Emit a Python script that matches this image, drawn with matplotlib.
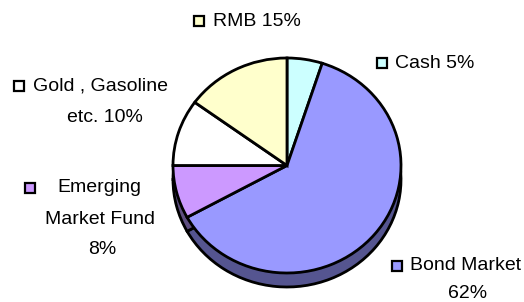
import matplotlib.pyplot as plt

plt.rcParams["font.family"] = ["Liberation Sans", "DejaVu Sans"]

labels = ["Cash", "Bond Market", "Emerging Market Fund", "Gold , Gasoline etc.", "RMB"]
shares = [5, 62, 8, 10, 15]
top_colors = ["#CCFFFF", "#9999FF", "#CC99FF", "#FFFFFF", "#FFFFCC"]
side_colors = ["#5A7A7A", "#555590", "#5E4E80", "#808080", "#80805A"]

# pie geometry in pixels
CX, CY, RX, RY, DEPTH = 287, 165.5, 114, 107.5, 14
W, H = 524, 302


def px(x, y):
    return (x - CX) / RX, (CY - y) / RY


fig = plt.figure(figsize=(W / 100, H / 100), dpi=100)
ax = fig.add_axes([0, 0, 1, 1])

ax.pie(shares, colors=side_colors, startangle=90, counterclock=False,
       center=(0, -DEPTH / RY), radius=1,
       wedgeprops=dict(edgecolor="black", linewidth=2, zorder=1))
ax.pie(shares, colors=top_colors, startangle=90, counterclock=False,
       center=(0, 0), radius=1,
       wedgeprops=dict(edgecolor="black", linewidth=2, zorder=2))

ax.set_aspect("auto")
x0, y0 = px(0, H)
x1, y1 = px(W, 0)
ax.set_xlim(x0, x1)
ax.set_ylim(y0, y1)
ax.axis("off")

fs = 14
# (square x, square y, [(text, x, y, ha)])
label_layout = [
    (382, 63, [(f"{labels[0]} {shares[0]}%", 395, 63, "left")]),
    (397, 266, [(labels[1], 410, 266, "left"), (f"{shares[1]}%", 468, 294, "center")]),
    (30, 188, [("Emerging", 99, 188, "center"), ("Market Fund", 100, 219, "center"),
               (f"{shares[2]}%", 102, 249, "center")]),
    (19, 86, [("Gold , Gasoline", 33, 86, "left"), (f"etc. {shares[3]}%", 104.5, 117, "center")]),
    (199, 21, [(f"{labels[4]} {shares[4]}%", 213, 21, "left")]),
]

for (sx, sy, lines), color in zip(label_layout, top_colors):
    mx, my = px(sx, sy)
    ax.plot(mx, my, marker="s", markersize=6.5, markerfacecolor=color,
            markeredgecolor="black", markeredgewidth=1.6, zorder=5, clip_on=False)
    for text, tx, ty, ha in lines:
        dx, dy = px(tx, ty)
        ax.text(dx, dy, text, ha=ha, va="center", fontsize=fs, color="black", zorder=5)

fig.savefig("out.png", dpi=100)
plt.close(fig)
